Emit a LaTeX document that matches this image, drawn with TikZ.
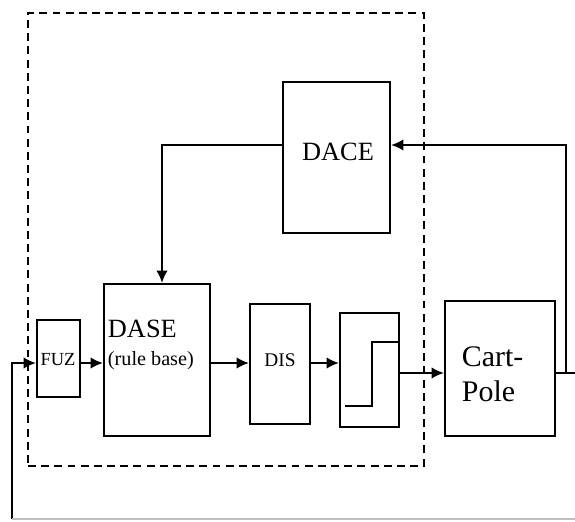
\documentclass[tikz,border=0pt]{standalone}
\usepackage{fontspec}
\setmainfont{Liberation Serif}
\usetikzlibrary{arrows.meta}

\begin{document}
\begin{tikzpicture}[x=0.02cm, y=-0.02cm, line width=1.1pt,
    >={Latex[length=7pt,width=6.5pt]},
    block/.style={draw, line width=1.2pt, inner sep=0pt},
    label/.style={inner sep=0pt},
    ctrlbox/.style={draw, dash pattern=on 4.5pt off 3pt, line width=1pt, inner sep=0pt}]
            \useasboundingbox (0, 0) rectangle (575, 521);
            % controller boundary
            \node[ctrlbox, minimum width=7.92cm, minimum height=9.06cm] (ctrl) at (226, 239.5) {};
            % blocks
            \node[block, minimum width=2.14cm, minimum height=3.02cm] (dace) at (336.5, 157.5) {};
            \node[block, minimum width=2.12cm, minimum height=3.04cm] (dase) at (157, 360) {};
            \node[block, minimum width=0.86cm, minimum height=1.54cm] (fuz) at (58.5, 358.5) {};
            \node[block, minimum width=1.2cm, minimum height=2.4cm] (dis) at (280, 364) {};
            \node[block, minimum width=1.18cm, minimum height=2.28cm] (relay) at (369.5, 370) {};
            \node[block, minimum width=2.2cm, minimum height=2.7cm] (cart) at (500, 368.5) {};
            % texts
            \node[label, font=\fontsize{15}{17}\selectfont] (dacetxt) at (338, 152) {DACE};
            \node[label, anchor=west, font=\fontsize{15}{17}\selectfont] (dasetxt) at (107, 329) {DASE};
            \node[label, anchor=west, font=\fontsize{11.5}{13}\selectfont] (rbtxt) at (107, 361) {(rule base)};
            \node[label, font=\fontsize{10.5}{12}\selectfont] (fuztxt) at (58, 360) {FUZ};
            \node[label, font=\fontsize{11}{13}\selectfont] (distxt) at (280, 360) {DIS};
            \node[label, anchor=west, align=left, font=\fontsize{17}{20}\selectfont] (carttxt) at (461, 374) {Cart-\\Pole};
            % step characteristic
            \draw (345, 406) -- (372, 406) -- (372, 342) -- (398, 342);
            % helper points
            \coordinate (in) at (12, 363);
            \coordinate (bl) at (12, 519);
            \coordinate (br) at (575, 519);
            \coordinate (fb) at (162, 145);
            \coordinate (out) at (566, 373);
            \coordinate (top) at (566, 145);
            \coordinate (edge) at (575, 373);
            % connections
            \draw[->] (bl) |- (fuz.west |- in);
            \draw[->] (fuz.east |- in) -- (dase.west |- in);
            \draw[->] (dase.east |- in) -- (dis.west |- in);
            \draw[->] (dis.east |- in) -- (relay.west |- in);
            \draw[->] (relay.east |- out) -- (cart.west |- out);
            \draw (cart.east |- out) -- (edge);
            \draw[->] (out) -- (top) -- (dace.east |- top);
            \draw[->] (dace.west |- fb) -- (fb) -- (dase.north -| fb);
            \draw[gray!50] (bl) -- (br);
          \end{tikzpicture}
\end{document}
